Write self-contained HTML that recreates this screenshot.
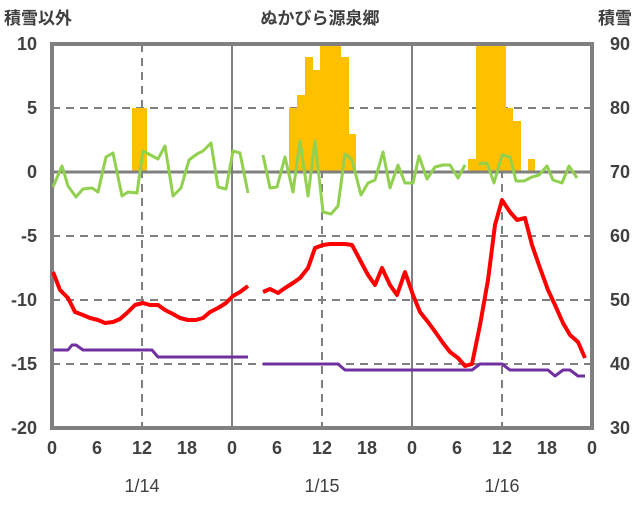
<!DOCTYPE html><html><head><meta charset="utf-8"><style>body{margin:0;background:#fff}svg text{font-family:"Liberation Sans","Noto Sans CJK JP",sans-serif;fill:#404040}</style></head><body>
<svg width="636" height="501" xmlns="http://www.w3.org/2000/svg">
<g stroke="#808080" stroke-width="2" stroke-dasharray="8,6" fill="none">
<line x1="52" y1="108" x2="592" y2="108"/><line x1="52" y1="236" x2="592" y2="236"/><line x1="52" y1="300" x2="592" y2="300"/><line x1="52" y1="364" x2="592" y2="364"/>
<line x1="142" y1="44" x2="142" y2="428"/><line x1="322" y1="44" x2="322" y2="428"/><line x1="502" y1="44" x2="502" y2="428"/>
</g>
<g fill="#FFC000">
<rect x="132" y="108" width="15" height="64"/>
<rect x="289" y="108" width="8" height="64"/><rect x="297" y="95" width="8" height="77"/><rect x="305" y="57" width="8" height="115"/><rect x="313" y="70" width="7" height="102"/><rect x="320" y="44" width="21" height="128"/><rect x="341" y="57" width="8" height="115"/><rect x="349" y="134" width="7" height="38"/>
<rect x="468" y="159" width="8" height="13"/><rect x="476" y="44" width="30" height="128"/><rect x="506" y="108" width="7" height="64"/><rect x="513" y="121" width="8" height="51"/><rect x="528" y="159" width="7" height="13"/>
</g>
<g stroke="#808080" fill="none">
<line x1="52" y1="172" x2="592" y2="172" stroke-width="3"/>
<line x1="232" y1="44" x2="232" y2="428" stroke-width="2"/><line x1="412" y1="44" x2="412" y2="428" stroke-width="2"/>
<rect x="52" y="44" width="540" height="384" stroke-width="4"/>
</g>
<g fill="none" stroke-width="3" stroke-linejoin="round">
<polyline stroke="#92D050" points="53,187 62,166 68,186 76,197 83,189 92,188 98,192 106,157 113,153 122,196 128,192 137,193 143,151 158,159 165,146 173,196 181,188 189,160 197,154 203,151 211,143 218,187 226,189 233,151 240,153 248,193"/>
<polyline stroke="#92D050" points="263,155 270,188 277,187 285,157 293,192 300,141 308,196 315,141 323,212 331,214 338,206 345,154 352,160 361,195 368,183 375,180 383,152 390,188 398,165 405,183 413,183 419,156 427,179 435,167 443,165 450,165 458,178 465,165"/>
<polyline stroke="#92D050" points="479,164 487,163 494,183 502,155 510,157 516,181 524,181 532,177 539,175 547,166 553,180 562,183 569,166 577,178"/>
<polyline stroke="#FF0000" stroke-width="4" points="53,272 60,290 68,298 75,312 83,315 90,318 98,320 105,323 113,322 120,319 128,312 135,305 143,303 150,305 158,305 165,310 173,314 180,318 188,320 196,320 203,318 210,312 218,308 226,303 233,296 240,292 248,286"/>
<polyline stroke="#FF0000" stroke-width="4" points="263,292 270,289 278,293 285,288 293,283 300,278 308,268 315,248 323,245 330,244 338,244 345,244 352,245 360,260 368,275 375,285 382,268 390,285 397,295 405,272 413,295 420,312 428,322 436,333 443,343 450,352 458,358 465,366 472,364 480,325 488,280 495,225 502,200 510,212 517,220 525,218 532,245 540,268 548,290 555,305 563,323 570,335 578,342 585,358"/>
<polyline stroke="#7030A0" points="53,350 68,350 72,345 76,345 83,350 152,350 158,357 248,357"/>
<polyline stroke="#7030A0" points="263,364 338,364 345,370 472,370 480,364 502,364 510,370 548,370 555,376 563,370 570,370 578,376 585,376"/>
</g>
<g font-size="18" font-weight="bold" text-anchor="end">
<text x="37" y="50">10</text><text x="37" y="114">5</text><text x="37" y="178">0</text><text x="37" y="242">-5</text><text x="37" y="306">-10</text><text x="37" y="370">-15</text><text x="37" y="434">-20</text>
</g>
<g font-size="18" font-weight="bold" text-anchor="start">
<text x="610" y="50">90</text><text x="610" y="114">80</text><text x="610" y="178">70</text><text x="610" y="242">60</text><text x="610" y="306">50</text><text x="610" y="370">40</text><text x="610" y="434">30</text>
</g>
<g font-size="18" font-weight="bold" text-anchor="middle">
<text x="52" y="454">0</text><text x="97" y="454">6</text><text x="142" y="454">12</text><text x="187" y="454">18</text><text x="232" y="454">0</text><text x="277" y="454">6</text><text x="322" y="454">12</text><text x="367" y="454">18</text><text x="412" y="454">0</text><text x="457" y="454">6</text><text x="502" y="454">12</text><text x="547" y="454">18</text><text x="592" y="454">0</text>
</g>
<g font-size="18" text-anchor="middle" style="font-family:'Liberation Mono',monospace">
<text x="142" y="492">1/14</text><text x="322" y="492">1/15</text><text x="502" y="492">1/16</text>
</g>
<g font-size="17" font-weight="bold">
<text x="4" y="24">積雪以外</text><text x="320" y="24" text-anchor="middle">ぬかびら源泉郷</text><text x="632" y="24" text-anchor="end">積雪</text>
</g>
</svg></body></html>
